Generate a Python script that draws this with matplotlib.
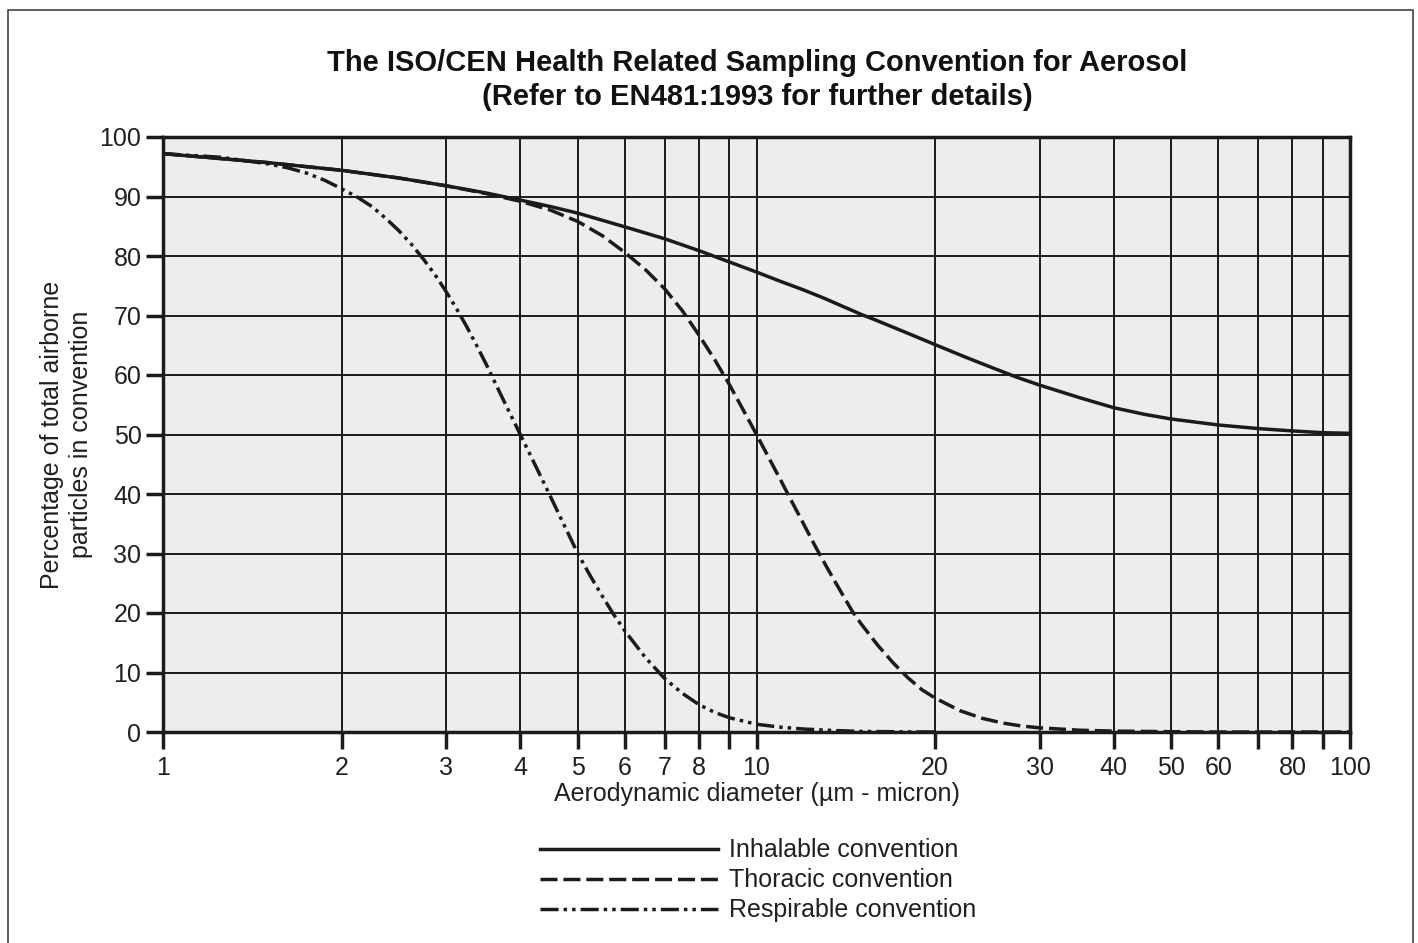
import numpy as np
import matplotlib
matplotlib.use("Agg")
import matplotlib.pyplot as plt
from matplotlib.ticker import FixedLocator, FixedFormatter, NullLocator
from matplotlib.lines import Line2D
from matplotlib.patches import Rectangle

plt.rcParams['font.family'] = ['Liberation Sans', 'DejaVu Sans']

# values
inh_d = [1, 1.5, 2, 2.5, 3, 3.5, 4, 4.5, 5, 5.5, 6, 7, 8, 9, 10, 11, 12, 13, 14,
         15, 16, 18, 20, 22.5, 25, 27.5, 30, 35, 40, 45, 50, 60, 70, 80, 90, 100]
inh_pct = [97.2, 95.7, 94.4, 93.1, 91.8, 90.6, 89.4, 88.3, 87.2, 86.0, 84.9,
           82.9, 80.9, 79.0, 77.3, 75.7, 74.3, 72.9, 71.5, 70.2, 69.1, 67.0,
           65.1, 63.0, 61.2, 59.6, 58.3, 56.2, 54.5, 53.4, 52.6, 51.6, 51.0,
           50.6, 50.3, 50.2]

tho_d = [1, 1.5, 2, 2.5, 3, 3.5, 4, 4.5, 5, 5.5, 6, 6.5, 7, 7.5, 8, 8.5, 9, 9.5,
         10, 10.5, 11, 11.5, 12, 12.5, 13, 13.5, 14, 14.5, 15, 16, 17, 18, 19, 20,
         22, 24, 26, 28, 30, 35, 40, 50, 60, 100]
tho_pct = [97.2, 95.7, 94.4, 93.1, 91.8, 90.5, 89.2, 87.7, 85.8, 83.4, 80.6,
           77.7, 74.5, 70.8, 66.7, 62.6, 58.4, 54.1, 50.0, 46.0, 42.2, 38.5,
           35.0, 31.6, 28.5, 25.6, 22.9, 20.3, 18.2, 14.6, 11.6, 9.1, 7.1, 5.7,
           3.6, 2.3, 1.5, 1.0, 0.7, 0.3, 0.15, 0.05, 0.0, 0.0]

res_d = [1, 1.25, 1.5, 1.625, 1.75, 1.875, 2, 2.125, 2.25, 2.375, 2.5, 2.625,
         2.75, 2.875, 3, 3.125, 3.25, 3.375, 3.5, 3.75, 4, 4.25, 4.5, 4.75, 5,
         5.25, 5.5, 5.75, 6, 6.5, 7, 7.5, 8, 8.5, 9, 10, 11, 12, 13.5, 15, 17.5,
         20]
res_pct = [97.2, 96.6, 95.5, 94.8, 93.9, 92.7, 91.3, 89.9, 88.3, 86.3, 84.2,
           81.9, 79.4, 76.8, 74.0, 71.1, 68.1, 65.0, 61.9, 55.7, 50.0, 44.6,
           39.5, 34.6, 30.0, 26.2, 22.8, 19.7, 17.0, 12.5, 9.0, 6.5, 4.6, 3.3,
           2.4, 1.3, 0.8, 0.5, 0.25, 0.1, 0.03, 0.0]

x_ticks = [1, 2, 3, 4, 5, 6, 7, 8, 9, 10, 20, 30, 40, 50, 60, 70, 80, 90, 100]
x_labels = ['1', '2', '3', '4', '5', '6', '7', '8', '', '10', '20', '30', '40',
            '50', '60', '', '80', '', '100']
y_ticks = list(range(0, 101, 10))

labels = ['Inhalable convention', 'Thoracic convention', 'Respirable convention']

W, H = 1418, 943
fig = plt.figure(figsize=(W / 100, H / 100), dpi=100)
ax = fig.add_axes([163 / W, 1 - 732 / H, (1350 - 163) / W, (732 - 137) / H])

ink = '#1c1a1b'
txt = '#231f20'
lw = 2.5
styles = ['-', (0, (4.9, 1.7)), (0, (5.2, 1.45, 1.0, 1.45, 1.0, 1.45))]

ax.set_facecolor('#ededed')
ax.plot(res_d, res_pct, color=ink, lw=lw, ls=styles[2], zorder=3)
ax.plot(tho_d, tho_pct, color=ink, lw=lw, ls=styles[1], zorder=3)
ax.plot(inh_d, inh_pct, color=ink, lw=lw, ls=styles[0], zorder=4)

ax.set_xscale('log')
ax.set_xlim(1, 100)
ax.set_ylim(0, 100)
ax.xaxis.set_major_locator(FixedLocator(x_ticks))
ax.xaxis.set_major_formatter(FixedFormatter(x_labels))
ax.xaxis.set_minor_locator(NullLocator())
ax.set_yticks(y_ticks)

ax.set_axisbelow(True)
ax.grid(True, color=ink, lw=1.4)
for s in ax.spines.values():
    s.set_linewidth(2.5)
    s.set_color(ink)
    s.set_zorder(5)

ax.tick_params(axis='both', direction='out', length=12.5, width=2.5,
               color=ink, labelsize=18, labelcolor=txt)
ax.tick_params(axis='x', pad=5)
ax.tick_params(axis='y', pad=3)

ax.set_xlabel('Aerodynamic diameter (µm - micron)', fontsize=18, color=txt)
ax.xaxis.set_label_coords(0.5, -(782 - 732) / 595)
ax.set_ylabel('Percentage of total airborne\nparticles in convention',
              fontsize=18, color=txt, linespacing=1.28)
ax.yaxis.set_label_coords((93 - 163) / 1187, 0.5)

fig.text(757 / W, 1 - 71 / H,
         'The ISO/CEN Health Related Sampling Convention for Aerosol',
         ha='center', va='baseline', fontsize=21, fontweight='bold', color='#111111')
fig.text(757 / W, 1 - 105 / H, '(Refer to EN481:1993 for further details)',
         ha='center', va='baseline', fontsize=21, fontweight='bold', color='#111111')

# legend drawn by hand below the axes
for i, (lab, st) in enumerate(zip(labels, styles)):
    yy = 1 - (849 + 30 * i) / H
    fig.add_artist(Line2D([540 / W, 718 / W], [yy, yy], color=ink, lw=lw,
                          ls=st, transform=fig.transFigure))
    fig.text(729 / W, 1 - (857 + 30 * i) / H, lab, ha='left', va='baseline',
             fontsize=18, color=txt)

# outer frame
fig.patches.append(Rectangle((8 / W, -0.05), (1413 - 8) / W, 1.05 - 10 / H,
                             transform=fig.transFigure, fill=False,
                             edgecolor='#444444', lw=1.2))

fig.savefig('out.png', dpi=100)
